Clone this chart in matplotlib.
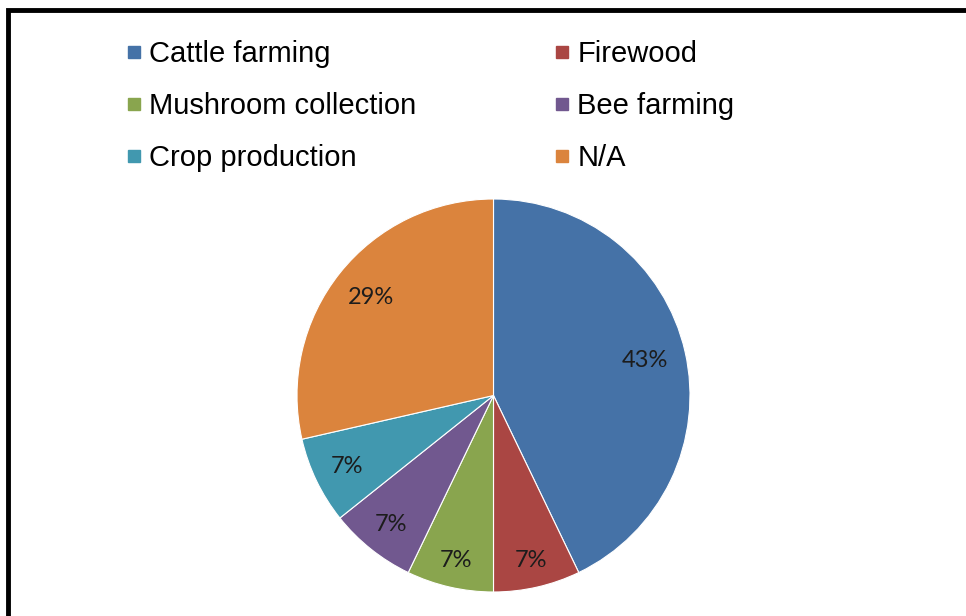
import matplotlib
matplotlib.use("Agg")
import matplotlib.pyplot as plt
from matplotlib.lines import Line2D
import numpy as np

categories = ["Cattle farming", "Firewood", "Mushroom collection",
              "Bee farming", "Crop production", "N/A"]
counts = [6, 1, 1, 1, 1, 4]
pct_labels = ["43%", "7%", "7%", "7%", "7%", "29%"]
colors = ["#4572A7", "#AA4643", "#89A54E", "#71588F", "#4198AF", "#DB843D"]

W, H = 966, 616
fig = plt.figure(figsize=(W / 100, H / 100), dpi=100)
fig.patch.set_facecolor("white")

# pie axes
cx, cy, r = 493.5, 395.5, 196.5
ax = fig.add_axes([(cx - r) / W, (H - cy - r) / H, 2 * r / W, 2 * r / H])
wedges, _ = ax.pie(counts, colors=colors, startangle=90, counterclock=False,
                   wedgeprops=dict(edgecolor="white", linewidth=0.8))
ax.set_xlim(-1, 1)
ax.set_ylim(-1, 1)
ax.set_aspect("equal")
ax.axis("off")

label_dist = [0.79, 0.86, 0.86, 0.84, 0.83, 0.80]
for w, lab, d in zip(wedges, pct_labels, label_dist):
    ang = np.deg2rad((w.theta1 + w.theta2) / 2)
    ax.text(d * np.cos(ang), d * np.sin(ang), lab, ha="center", va="center",
            fontsize=17, family=["Lato", "DejaVu Sans"], color="#1c1c1c")

# legends (two columns, row-major order)
def handle(c):
    return Line2D([], [], marker="s", linestyle="none", markersize=9,
                  markerfacecolor=c, markeredgecolor=c)

fs = 21
col1 = [0, 2, 4]
col2 = [1, 3, 5]
for idx, x0 in ((col1, 126), (col2, 554)):
    leg = fig.legend([handle(colors[i]) for i in idx], [categories[i] for i in idx],
                     loc="upper left", bbox_to_anchor=(x0 / W, 1 - 40 / H),
                     frameon=False, borderpad=0, borderaxespad=0,
                     handlelength=0.55, handletextpad=0.25, labelspacing=0.82,
                     prop=dict(family=["Liberation Sans", "DejaVu Sans"], size=fs))

# frame lines (top and left)
lx = 7.5 / W
ty = 1 - 10 / H
fig.add_artist(Line2D([lx, lx, 1.0], [0.0, ty, ty], transform=fig.transFigure,
                      color="black", linewidth=3.5, solid_joinstyle="miter"))

fig.savefig("out.png", dpi=100, facecolor="white")
